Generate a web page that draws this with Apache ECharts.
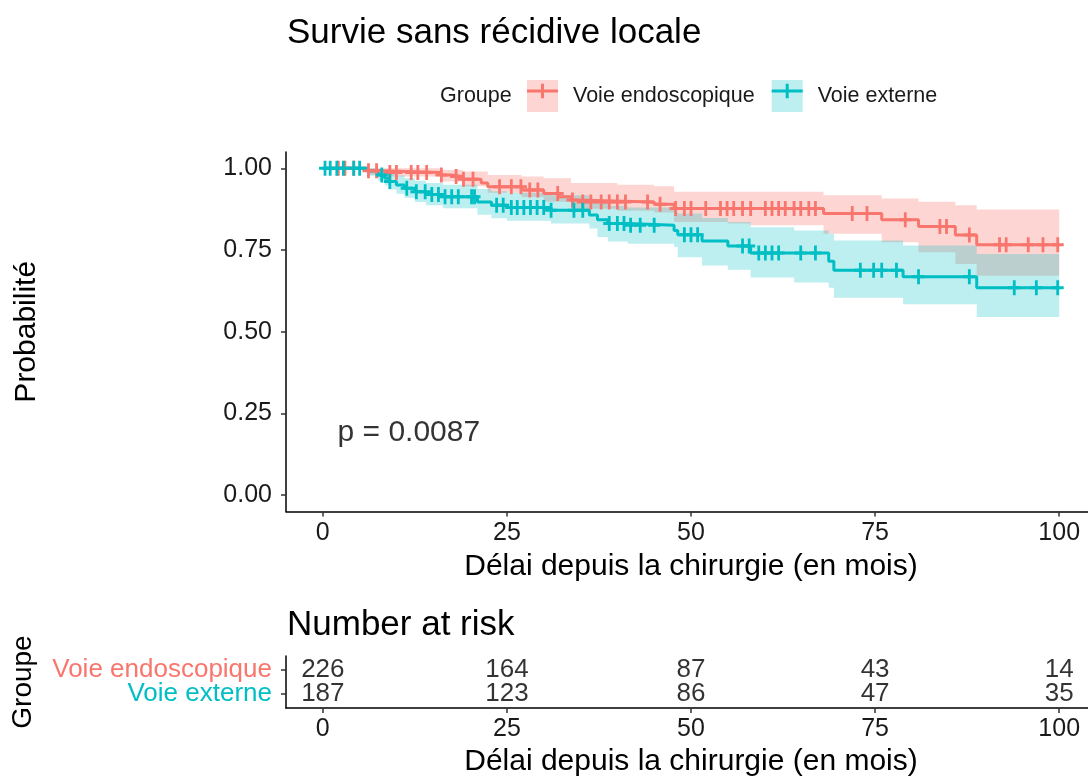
<!DOCTYPE html>
<html>
<head>
<meta charset="utf-8">
<script src="https://cdn.jsdelivr.net/npm/echarts@6/dist/echarts.min.js"></script>
<style>
  html, body { margin: 0; padding: 0; background: #fff; }
  #chart { width: 1088px; height: 781px; }
</style>
</head>
<body>
<div id="chart"></div>
<script>
// ---------------- data ----------------
const groupNames = ['Voie endoscopique', 'Voie externe'];
const chartTitle = 'Survie sans récidive locale';
const xTitle = 'Délai depuis la chirurgie (en mois)';
const yTitle = 'Probabilité';
const legendTitle = 'Groupe';
const riskTitle = 'Number at risk';
const pValueText = 'p = 0.0087';
const pValueAt = [2, 0.19];

const xTicks = [0, 25, 50, 75, 100];
const yTicks = [0, 0.25, 0.5, 0.75, 1];
const riskRows = [2, 1];   // row position of each group in the risk table

// Kaplan-Meier steps, group 1 (Voie endoscopique)
const endoTimes = [0, 6, 8, 16, 17.5, 19, 21.5, 22.4, 27, 30, 32, 33.7, 34.2, 45, 47.7, 68, 75.9, 80.9, 85.9, 88.8, 100];
const endoSurv  = [1, 0.993, 0.987, 0.98, 0.975, 0.967, 0.955, 0.944, 0.934, 0.923, 0.913, 0.903, 0.897, 0.89, 0.877, 0.862, 0.843, 0.822, 0.796, 0.766, 0.766];
const endoBandTimes = [0, 6, 8, 16, 19, 22.4, 27, 30, 33.7, 40, 45, 47.7, 55, 58, 68, 75.9, 80.9, 85.9, 88.8, 100];
const endoUpper = [1, 1, 1, 0.995, 0.99, 0.98, 0.975, 0.97, 0.955, 0.95, 0.945, 0.928, 0.928, 0.928, 0.918, 0.908, 0.898, 0.887, 0.874, 0.874];
const endoLower = [1, 0.98, 0.975, 0.96, 0.945, 0.925, 0.912, 0.898, 0.876, 0.87, 0.865, 0.836, 0.831, 0.826, 0.80, 0.774, 0.743, 0.707, 0.671, 0.671];
const endoCensor = [2.1, 3, 4.2, 6.2, 7.3, 9.1, 10, 12, 12.9, 14.1, 16.1, 18.1, 19.1, 20.4, 24, 25.6, 26.9, 28.1, 29.2, 31.9, 33.9, 35.3, 36.4, 37.8, 38.9, 40, 41.1, 44.1, 45.8, 47.9, 49.1, 50, 52, 54, 54.9, 55.8, 57, 58.1, 60.1, 61, 61.9, 62.8, 64, 64.9, 66, 66.9, 71.9, 73.9, 79.1, 83.8, 84.7, 87.8, 91.9, 92.8, 95.8, 97.8, 99.8];

// Kaplan-Meier steps, group 2 (Voie externe)
const extTimes = [0, 6, 7.5, 8.4, 9, 10, 11.1, 12.5, 14, 16.3, 21, 22.9, 25, 31, 36.2, 37.3, 38.7, 41.4, 47.7, 48.2, 51.5, 55, 58.1, 68.7, 69.4, 78.8, 88.8, 100];
const extSurv  = [1, 0.992, 0.98, 0.97, 0.96, 0.949, 0.939, 0.928, 0.92, 0.913, 0.897, 0.887, 0.88, 0.872, 0.857, 0.843, 0.831, 0.826, 0.81, 0.797, 0.778, 0.762, 0.741, 0.716, 0.688, 0.668, 0.635, 0.635];
const extBandTimes = [0, 6, 7.5, 8.4, 9, 10, 11.1, 12.5, 14, 16.3, 21, 22.9, 25, 31, 36.2, 37.3, 38.7, 41.4, 47.7, 48.2, 51.5, 55, 58.1, 64, 68.7, 69.4, 78.8, 88.8, 100];
const extUpper = [1, 1, 0.998, 0.993, 0.986, 0.978, 0.97, 0.962, 0.955, 0.95, 0.937, 0.93, 0.925, 0.918, 0.905, 0.895, 0.885, 0.88, 0.868, 0.862, 0.848, 0.836, 0.82, 0.81, 0.80, 0.779, 0.764, 0.738, 0.738];
const extLower = [1, 0.977, 0.962, 0.948, 0.935, 0.922, 0.91, 0.897, 0.887, 0.878, 0.858, 0.847, 0.84, 0.831, 0.816, 0.79, 0.776, 0.769, 0.759, 0.728, 0.703, 0.69, 0.666, 0.651, 0.635, 0.604, 0.584, 0.545, 0.545];
const extCensor = [0.3, 1, 1.9, 2.8, 4.2, 5, 8, 9.1, 11.4, 12.7, 13.9, 14.8, 15.7, 16.6, 17.5, 18.4, 20.2, 20.6, 23.6, 24.5, 25.6, 26.4, 27.3, 28.2, 29.1, 30, 31, 34.1, 35.3, 38.9, 40, 40.9, 41.8, 43.1, 45, 49.1, 50, 50.9, 57, 57.9, 59.2, 60.1, 61, 61.9, 64.9, 66.9, 73, 74.8, 75.9, 77.9, 80.9, 87.8, 93.9, 96.9, 99.8];

// Number at risk table
const riskTimes = [0, 25, 50, 75, 100];
const riskEndo = [226, 164, 87, 43, 14];
const riskExt  = [187, 123, 86, 47, 35];

// ---------------- helpers ----------------
const RED = '#F8766D', TEAL = '#00BFC4';
const RED_FILL = 'rgba(248,118,109,0.3)', TEAL_FILL = 'rgba(0,191,196,0.26)';
const FONT = '"Liberation Sans", Arial, Helvetica, sans-serif';
const INK = '#1a1a1a';

function pairs(xs, ys) { return xs.map((x, i) => [x, ys[i]]); }
function stepValue(times, surv, t) {
  let v = surv[0];
  for (let i = 0; i < times.length; i++) { if (times[i] <= t) v = surv[i]; else break; }
  return v;
}
function censorPoints(cens, times, surv) { return cens.map(t => [t, stepValue(times, surv, t)]); }
function bandRenderer(times, upper, lower, fill) {
  return function (params, api) {
    const pts = [];
    for (let i = 0; i < times.length - 1; i++) {
      pts.push(api.coord([times[i], upper[i]]));
      pts.push(api.coord([times[i + 1], upper[i]]));
    }
    for (let i = times.length - 2; i >= 0; i--) {
      pts.push(api.coord([times[i + 1], lower[i]]));
      pts.push(api.coord([times[i], lower[i]]));
    }
    return { type: 'polygon', shape: { points: pts }, style: { fill: fill }, silent: true };
  };
}
const plusSymbol = 'path://M0,6L12,6L12,9L0,9Z M4.6,0L7.4,0L7.4,15L4.6,15Z';
const legendPlus = 'path://M0,5.8L31,5.8L31,8.8L0,8.8Z M14,0L17,0L17,14.6L14,14.6Z';

const axisLineStyle = { color: '#000', width: 1.5 };
const tickStyle = { color: '#333', width: 1.5 };

function xAxisFor(gridIndex, nameGap) {
  return {
    type: 'value', gridIndex: gridIndex, min: -5, max: 105,
    axisLine: { show: true, onZero: false, lineStyle: axisLineStyle },
    axisTick: { show: true, length: 5, customValues: xTicks, lineStyle: tickStyle },
    axisLabel: { show: true, customValues: xTicks, margin: 9, fontSize: 25, color: INK, fontFamily: FONT, hideOverlap: false },
    splitLine: { show: false },
    name: xTitle, nameLocation: 'middle', nameGap: nameGap,
    nameTextStyle: { fontSize: 30, color: '#000', fontFamily: FONT }
  };
}
// one y axis per risk-table row, stacked on the same left edge
function riskYAxis(rowIndex, withLine) {
  const ax = {
    type: 'value', gridIndex: 1, position: 'left', offset: 0, min: 0.4, max: 2.6,
    axisLine: { show: withLine, onZero: false, lineStyle: axisLineStyle },
    axisTick: { show: true, length: 5, customValues: [riskRows[rowIndex]], lineStyle: tickStyle },
    axisLabel: { show: true, customValues: [riskRows[rowIndex]], margin: 14, fontSize: 26, fontFamily: FONT,
                 hideOverlap: false, formatter: () => groupNames[rowIndex],
                 color: rowIndex === 0 ? RED : TEAL },
    splitLine: { show: false }
  };
  if (withLine) {
    ax.name = legendTitle; ax.nameLocation = 'middle'; ax.nameGap = 249; ax.nameRotate = 90;
    ax.nameTextStyle = { fontSize: 28, color: '#000', fontFamily: FONT };
  }
  return ax;
}

const legendBase = {
  orient: 'horizontal', left: 527, top: 80, padding: 0,
  itemWidth: 31, itemHeight: 32, itemGap: 17, selectedMode: false,
  textStyle: { fontSize: 21.5, fontFamily: FONT, color: INK, padding: [0, 0, 0, 10] }
};

const option = {
  animation: false,
  backgroundColor: '#fff',
  textStyle: { fontFamily: FONT },
  title: [
    { text: chartTitle, left: 287, top: 16, padding: 0,
      textStyle: { fontSize: 35, fontWeight: 'normal', color: '#000', fontFamily: FONT } },
    { text: riskTitle, left: 287, top: 608, padding: 0,
      textStyle: { fontSize: 35, fontWeight: 'normal', color: '#000', fontFamily: FONT } },
    { text: legendTitle, left: 440, top: 85, padding: 0,
      textStyle: { fontSize: 21.5, fontWeight: 'normal', color: INK, fontFamily: FONT } }
  ],
  legend: [
    Object.assign({}, legendBase, {
      z: 4,
      data: [
        { name: groupNames[0], icon: 'rect', itemStyle: { color: RED_FILL, borderWidth: 0 } },
        { name: groupNames[1], icon: 'rect', itemStyle: { color: TEAL_FILL, borderWidth: 0 } }
      ]
    }),
    Object.assign({}, legendBase, {
      z: 6,
      textStyle: Object.assign({}, legendBase.textStyle, { color: 'rgba(0,0,0,0)' }),
      data: [
        { name: groupNames[0], icon: legendPlus, itemStyle: { color: RED, borderWidth: 0 } },
        { name: groupNames[1], icon: legendPlus, itemStyle: { color: TEAL, borderWidth: 0 } }
      ]
    })
  ],
  grid: [
    { left: 286, right: -8, top: 152, bottom: 269.5, outerBoundsMode: 'none', containLabel: false },
    { left: 286, right: -8, top: 656, bottom: 73, outerBoundsMode: 'none', containLabel: false }
  ],
  xAxis: [ xAxisFor(0, 40), xAxisFor(1, 39) ],
  yAxis: [
    {
      type: 'value', gridIndex: 0, min: -0.05, max: 1.05,
      axisLine: { show: true, onZero: false, lineStyle: axisLineStyle },
      axisTick: { show: true, length: 5, customValues: yTicks, lineStyle: tickStyle },
      axisLabel: { show: true, customValues: yTicks, margin: 14, fontSize: 25, color: INK, fontFamily: FONT,
                   hideOverlap: false, formatter: v => Number(v).toFixed(2) },
      splitLine: { show: false },
      name: yTitle, nameLocation: 'middle', nameGap: 244, nameRotate: 90,
      nameTextStyle: { fontSize: 30, color: '#000', fontFamily: FONT }
    },
    riskYAxis(0, true),
    riskYAxis(1, false)
  ],
  series: [
    { type: 'custom', name: 'band-endo', xAxisIndex: 0, yAxisIndex: 0, z: 1, silent: true,
      data: [[0, 1]], renderItem: bandRenderer(endoBandTimes, endoUpper, endoLower, RED_FILL) },
    { type: 'custom', name: 'band-ext', xAxisIndex: 0, yAxisIndex: 0, z: 1, silent: true,
      data: [[0, 1]], renderItem: bandRenderer(extBandTimes, extUpper, extLower, TEAL_FILL) },
    { type: 'line', name: groupNames[0], xAxisIndex: 0, yAxisIndex: 0, step: 'end', showSymbol: false, symbol: 'none',
      data: pairs(endoTimes, endoSurv), lineStyle: { color: RED, width: 3 }, itemStyle: { color: RED }, z: 3, silent: true },
    { type: 'line', name: groupNames[1], xAxisIndex: 0, yAxisIndex: 0, step: 'end', showSymbol: false, symbol: 'none',
      data: pairs(extTimes, extSurv), lineStyle: { color: TEAL, width: 3 }, itemStyle: { color: TEAL }, z: 3, silent: true },
    { type: 'scatter', name: groupNames[0], xAxisIndex: 0, yAxisIndex: 0, symbol: plusSymbol, symbolSize: [12, 15],
      data: censorPoints(endoCensor, endoTimes, endoSurv), itemStyle: { color: RED, opacity: 1 }, z: 4, silent: true },
    { type: 'scatter', name: groupNames[1], xAxisIndex: 0, yAxisIndex: 0, symbol: plusSymbol, symbolSize: [12, 15],
      data: censorPoints(extCensor, extTimes, extSurv), itemStyle: { color: TEAL, opacity: 1 }, z: 4, silent: true },
    { type: 'scatter', name: 'pvalue', xAxisIndex: 0, yAxisIndex: 0, symbolSize: 0, silent: true,
      data: [pValueAt],
      label: { show: true, position: 'right', distance: 0, formatter: pValueText,
               fontSize: 30, color: '#000', fontFamily: FONT } },
    { type: 'scatter', name: 'risk-endo', xAxisIndex: 1, yAxisIndex: 1, symbolSize: 0, silent: true,
      data: riskTimes.map((t, i) => [t, riskRows[0], riskEndo[i]]),
      label: { show: true, position: 'inside', formatter: p => String(p.value[2]),
               fontSize: 26, color: '#000', fontFamily: FONT } },
    { type: 'scatter', name: 'risk-ext', xAxisIndex: 1, yAxisIndex: 1, symbolSize: 0, silent: true,
      data: riskTimes.map((t, i) => [t, riskRows[1], riskExt[i]]),
      label: { show: true, position: 'inside', formatter: p => String(p.value[2]),
               fontSize: 26, color: '#000', fontFamily: FONT } }
  ]
};

const chart = echarts.init(document.getElementById('chart'));
chart.setOption(option);
</script>
</body>
</html>
